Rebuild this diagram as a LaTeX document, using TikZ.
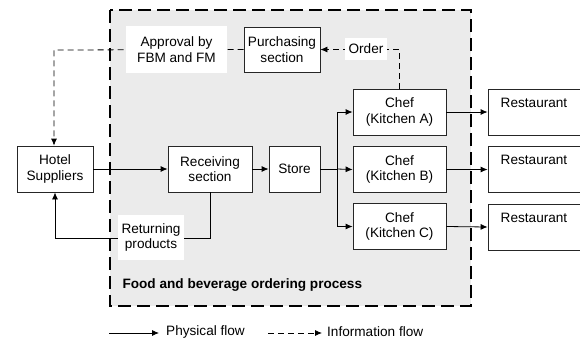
\documentclass[tikz,border=0pt]{standalone}
\usepackage{fontspec}
\setmainfont{Liberation Sans}
\usetikzlibrary{arrows.meta}
\begin{document}
\begin{tikzpicture}[x=1pt,y=-1pt,
  font=\fontsize{13.6}{15.5}\selectfont,
  box/.style={draw=black!85, line width=0.8pt, fill=white, align=center, inner sep=0pt},
  lbl/.style={fill=white, align=center, inner sep=0pt},
  flow/.style={line width=0.8pt, -{Latex[length=7pt,width=6pt]}},
  info/.style={line width=0.8pt, dash pattern=on 6pt off 4pt, -{Latex[length=7pt,width=6pt]}},
  info noarrow/.style={line width=0.8pt, dash pattern=on 6pt off 4pt}]
\useasboundingbox (0,0) rectangle (580,341);
\clip (0,0) rectangle (580,341);
% process region
\draw[fill=black!8, line width=1.3pt, dash pattern=on 13pt off 6pt] (110,10) rectangle (471,306);
\node[anchor=west, font=\fontsize{13.6}{15.5}\selectfont\bfseries] (title) at (119,285) {Food and beverage ordering process};
% boxes
\node[box, minimum width=76pt, minimum height=46pt] (hotel) at (55,169) {Hotel\\Suppliers};
\node[box, minimum width=84pt, minimum height=46pt] (recv) at (210,169) {Receiving\\section};
\node[box, minimum width=51pt, minimum height=46pt] (store) at (294.5,169) {Store};
\node[box, minimum width=76pt, minimum height=45pt] (purch) at (282,49.5) {Purchasing\\section};
\node[box, minimum width=93pt, minimum height=46pt] (chefA) at (399.5,112) {Chef\\(Kitchen A)};
\node[box, minimum width=93pt, minimum height=46pt] (chefB) at (399.5,169.5) {Chef\\(Kitchen B)};
\node[box, minimum width=93pt, minimum height=46pt] (chefC) at (399.5,226.5) {Chef\\(Kitchen C)};
\node[box, minimum width=112pt, minimum height=46pt] (restA) at (544,112) {};
\node[box, minimum width=112pt, minimum height=46pt] (restB) at (544,169.5) {};
\node[box, minimum width=112pt, minimum height=46pt] (restC) at (544,227) {};
\node (restAt) at (534,103) {Restaurant};
\node (restBt) at (534,160) {Restaurant};
\node (restCt) at (534,217.5) {Restaurant};
% physical flows
\draw[flow] (hotel.east) -- (recv.west);
\draw[flow] (recv.east) -- (store.west);
\coordinate (split) at (337,169);
\draw[line width=0.8pt] (store.east) -- (split);
\draw[flow] (split) |- (chefA.west);
\draw[flow] (split) -- (chefB.west);
\draw[flow] (split) |- (chefC.west);
\draw[flow] (chefA.east) -- (restA.west);
\draw[flow] (chefB.east) -- (restB.west);
\draw[flow] (chefC.east) -- (restC.west);
\coordinate (retcorner) at (211,238);
\draw[flow] (retcorner -| recv.south) -- ++(0,0) (recv.south) |- (hotel.south |- retcorner) -- (hotel.south);
\node[lbl, minimum width=66pt, minimum height=45pt] (ret) at (151,237.5) {Returning\\products};
% information flows
\coordinate (infoturn) at (54,50);
\draw[info] (purch.west) -- (infoturn) -- (hotel.north -| infoturn);
\node[lbl, minimum width=101pt, minimum height=47pt] (appr) at (176.5,49.5) {Approval by\\FBM and FM};
\draw[info] (chefA.north) |- (purch.east);
\node[lbl, minimum width=42pt, minimum height=22pt] (order) at (366,49) {Order};
% legend
\coordinate (l1a) at (109,333);
\coordinate (l1b) at (159,333);
\draw[flow] (l1a) -- (l1b);
\node[anchor=west, inner sep=0pt] (lphys) at (166,332) {Physical flow};
\coordinate (l2a) at (268,333);
\coordinate (l2b) at (322,333);
\draw[info] (l2a) -- (l2b);
\node[anchor=west, inner sep=0pt] (linfo) at (327,332) {Information flow};
\end{tikzpicture}
\end{document}
